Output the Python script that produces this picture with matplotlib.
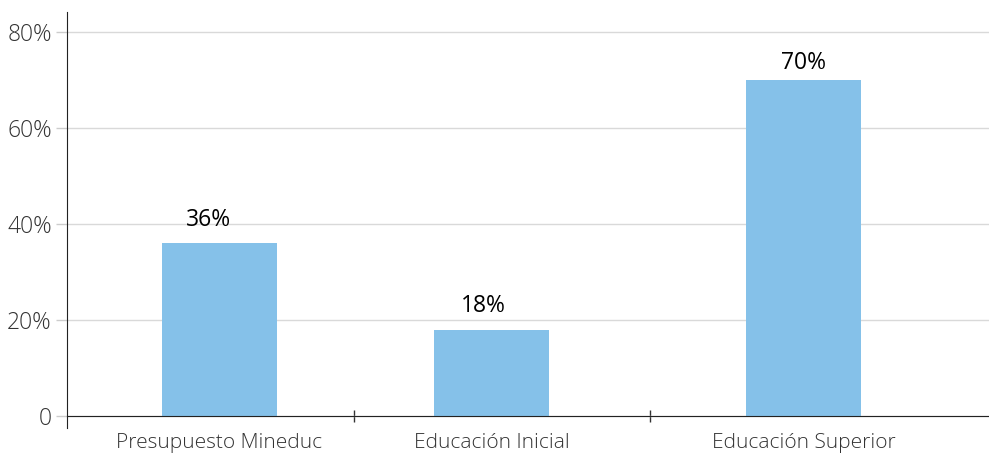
import numpy as np
import matplotlib.pyplot as plt

plt.rcParams['font.family'] = ['Open Sans', 'DejaVu Sans']

categories = ['Presupuesto Mineduc', 'Educación Inicial', 'Educación Superior']
values = [36, 18, 70]
labels = ['36%', '18%', '70%']
yticks = [0, 20, 40, 60, 80]
ytick_labels = ['0', '20%', '40%', '60%', '80%']

# layout: bar centres, category separators, label nudges (x units / y units)
xpos = [0, 1, 2.147]
separators = [0.494, 1.583]
label_dx = [-0.04, -0.03, 0.0]
label_dy = [2.4, 2.4, 1.0]
bar_color = '#85c1e9'

fig = plt.figure(figsize=(9.89, 4.53), dpi=100)
ax = fig.add_axes([0.0677, 0.0552, 0.9323, 0.9183])

ax.bar(xpos, values, width=0.423, color=bar_color, zorder=2)
for x, v, lab, dx, dy in zip(xpos, values, labels, label_dx, label_dy):
    ax.text(x + dx, v + dy, lab, ha='center', va='bottom', fontsize=16.5,
            color='#000000')

ax.set_xlim(-0.561, 2.829)
ax.set_ylim(-2.5, 84.2)

ax.set_yticks(yticks)
ax.set_yticklabels(ytick_labels, fontsize=16.5, color='#333333', fontweight='light')
ax.tick_params(axis='y', length=8, width=1, color='#cccccc', pad=3)
ax.yaxis.get_major_ticks()[0].tick1line.set_color('#222222')
ax.grid(axis='y', color='#d9d9d9', linewidth=1, zorder=0)

ax.spines['top'].set_visible(False)
ax.spines['right'].set_visible(False)
ax.spines['left'].set_color('#222222')
ax.spines['bottom'].set_position(('data', 0))
ax.spines['bottom'].set_color('#222222')
ax.spines['bottom'].set_zorder(3)

ax.set_xticks(separators)
ax.set_xticklabels(['', ''])
ax.tick_params(axis='x', which='major', direction='inout', length=8, width=1, color='#333333')
ax.set_xticks(xpos, minor=True)
ax.set_xticklabels(categories, minor=True, fontsize=15, color='#333333', fontweight='light')
ax.tick_params(axis='x', which='minor', length=0, pad=12)

fig.savefig('out.png', dpi=100)
